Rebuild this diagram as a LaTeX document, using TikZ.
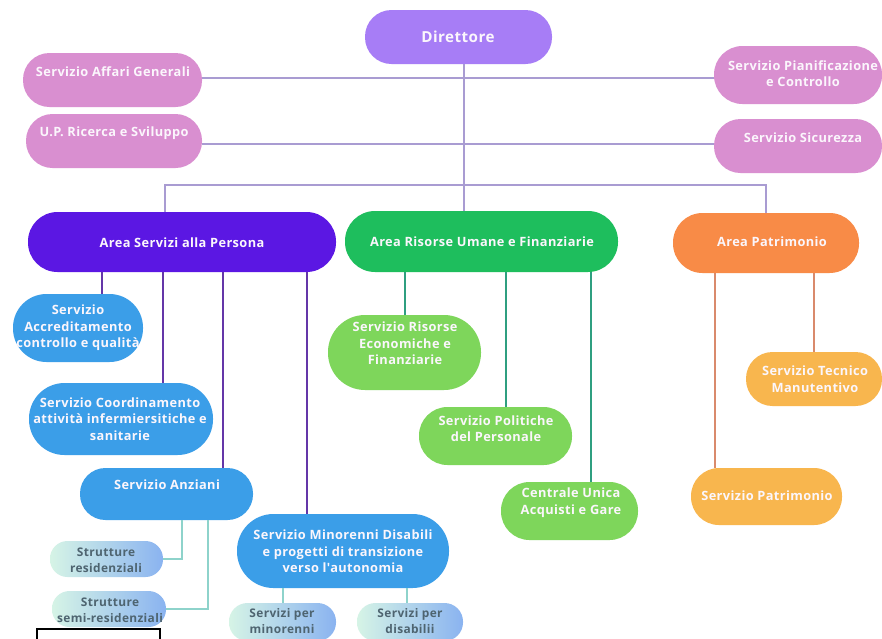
\documentclass[tikz,border=0pt]{standalone}
\usepackage{fontspec}
\setmainfont{Open Sans}
\newfontfamily\lblfont[LetterSpace=3]{Open Sans}
\definecolor{cDir}{HTML}{A77DF6}
\definecolor{cPink}{HTML}{D98FD0}
\definecolor{cASP}{HTML}{5B17E3}
\definecolor{cARF}{HTML}{1EBE5D}
\definecolor{cAP}{HTML}{F88B47}
\definecolor{cBlue}{HTML}{3B9EE8}
\definecolor{cLGreen}{HTML}{7ED65B}
\definecolor{cLOrange}{HTML}{F8B64E}
\definecolor{cMint}{HTML}{D6F4E6}
\definecolor{cSky}{HTML}{8AB3F0}
\definecolor{cTopLine}{HTML}{A99CD2}
\definecolor{cPurpLine}{HTML}{6436A8}
\definecolor{cTealLine}{HTML}{2F9F80}
\definecolor{cOrLine}{HTML}{D98A6C}
\definecolor{cLTeal}{HTML}{8ED3CB}
\definecolor{cTxt}{HTML}{FBF6FC}
\definecolor{cDarkTxt}{HTML}{4E6470}
\newcommand{\mkbox}[6]{%
  \pgfmathsetmacro{\mkW}{#4-#2}%
  \pgfmathsetmacro{\mkH}{#5-#3}%
  \pgfmathsetmacro{\mkX}{(#2+#4)/2}%
  \pgfmathsetmacro{\mkY}{(#3+#5)/2}%
  \pgfmathsetmacro{\mkR}{(#5-#3)/2-0.5}%
  \node[orgbox, #6, minimum width=\mkW pt, minimum height=\mkH pt, rounded corners=\mkR pt] (#1) at (\mkX,\mkY) {};}
\tikzset{
  orgbox/.style={rectangle, draw=none, inner sep=0pt, outer sep=0pt},
  lbl/.style={text=cTxt, font=\lblfont\bfseries\fontsize{12.8}{16.5}\selectfont, align=center, inner sep=0pt},
  biglbl/.style={lbl, font=\lblfont\bfseries\fontsize{15.2}{18}\selectfont},
  dlbl/.style={lbl, text=cDarkTxt, font=\lblfont\bfseries\fontsize{11.9}{16}\selectfont},
  topline/.style={draw=cTopLine, line width=1.4pt},
  purpline/.style={draw=cPurpLine, line width=1.4pt},
  tealline/.style={draw=cTealLine, line width=1.4pt},
  orline/.style={draw=cOrLine, line width=1.4pt},
  lteal/.style={draw=cLTeal, line width=1.4pt},
}
\begin{document}
\begin{tikzpicture}[x=1pt,y=-1pt]
\useasboundingbox (0,0) rectangle (882,638);
\clip (0,0) rectangle (882,638);
\fill[white] (0,0) rectangle (882,638);
% coordinates for connector columns
\coordinate (xD) at (464,0);
\coordinate (busL) at (165,185);
\coordinate (busR) at (766,185);
\coordinate (xa1) at (102,0);
\coordinate (xa2) at (163,0);
\coordinate (xa3) at (223,0);
\coordinate (xa4) at (307,0);
\coordinate (xz1) at (182,0);
\coordinate (xz2) at (208,0);
\coordinate (xm1) at (283,0);
\coordinate (xm2) at (407,0);
\coordinate (xr1) at (405,0);
\coordinate (xr2) at (506,0);
\coordinate (xr3) at (591,0);
\coordinate (xp1) at (715,0);
\coordinate (xp2) at (814,0);
\coordinate (yAG) at (0,78);
\coordinate (yRS) at (0,144);
% boxes
\mkbox{dir}{365}{10}{552}{64}{fill=cDir}
\mkbox{ag}{23}{53}{202}{107}{fill=cPink}
\mkbox{rs}{26}{114}{202}{168}{fill=cPink}
\mkbox{pc}{714}{46}{882}{104}{fill=cPink}
\mkbox{ss}{714}{119}{882}{173}{fill=cPink}
\mkbox{asp}{28}{212}{336}{272}{fill=cASP}
\mkbox{arf}{345}{211}{618}{272}{fill=cARF}
\mkbox{ap}{673}{213}{859}{273}{fill=cAP}
\mkbox{acc}{13}{294}{143}{362}{fill=cBlue}
\mkbox{coo}{29}{383}{213}{455}{fill=cBlue}
\mkbox{anz}{80}{468}{253}{520}{fill=cBlue}
\mkbox{mdi}{237}{514}{449}{588}{fill=cBlue}
\mkbox{sres}{50}{541}{163}{577}{left color=cMint, right color=cSky}
\mkbox{ssem}{52}{591}{166}{627}{left color=cMint, right color=cSky}
\mkbox{smin}{229}{603}{336}{641}{left color=cMint, right color=cSky}
\mkbox{sdis}{357}{603}{463}{641}{left color=cMint, right color=cSky}
\mkbox{rec}{328}{315}{481}{390}{fill=cLGreen}
\mkbox{pol}{419}{407}{572}{465}{fill=cLGreen}
\mkbox{cua}{501}{482}{638}{540}{fill=cLGreen}
\mkbox{tec}{746}{352}{882}{406}{fill=cLOrange}
\mkbox{spa}{691}{468}{842}{525}{fill=cLOrange}
% connectors
\draw[topline] (ag.east |- yAG) -- (pc.west |- yAG);
\draw[topline] (rs.east |- yRS) -- (ss.west |- yRS);
\draw[topline] (xD |- dir.south) -- (xD |- arf.north);
\draw[topline] (busL |- asp.north) -- (busL) -- (busR) -- (busR |- ap.north);
\draw[purpline] (xa1 |- asp.south) -- (xa1 |- acc.north);
\draw[purpline] (xa2 |- asp.south) -- (xa2 |- coo.north);
\draw[purpline] (xa3 |- asp.south) -- (xa3 |- anz.north);
\draw[purpline] (xa4 |- asp.south) -- (xa4 |- mdi.north);
\draw[lteal] (xz1 |- anz.south) |- (sres.east);
\draw[lteal] (xz2 |- anz.south) |- (ssem.east);
\draw[lteal] (xm1 |- mdi.south) -- (xm1 |- smin.north);
\draw[lteal] (xm2 |- mdi.south) -- (xm2 |- sdis.north);
\draw[tealline] (xr1 |- arf.south) -- (xr1 |- rec.north);
\draw[tealline] (xr2 |- arf.south) -- (xr2 |- pol.north);
\draw[tealline] (xr3 |- arf.south) -- (xr3 |- cua.north);
\draw[orline] (xp1 |- ap.south) -- (xp1 |- spa.north);
\draw[orline] (xp2 |- ap.south) -- (xp2 |- tec.north);
% labels
\node[biglbl] (t-dir) at (458,37) {Direttore};
\node[lbl] (t-ag) at (113,72) {Servizio Affari Generali};
\node[lbl] (t-rs) at (114,133) {U.P. Ricerca e Sviluppo};
\node[lbl] (t-pc) at (803,73.5) {Servizio Pianificazione\\e Controllo};
\node[lbl] (t-ss) at (803,138) {Servizio Sicurezza};
\node[lbl] (t-asp) at (182,243) {Area Servizi alla Persona};
\node[lbl] (t-arf) at (482,242) {Area Risorse Umane e Finanziarie};
\node[lbl] (t-ap) at (772,242) {Area Patrimonio};
\node[lbl] (t-acc) at (78,328) {Servizio\\Accreditamento\\controllo e qualità};
\node[lbl] (t-coo) at (120,419) {Servizio Coordinamento\\attività infermiersitiche e\\sanitarie};
\node[lbl] (t-anz) at (167,485) {Servizio Anziani};
\node[lbl] (t-mdi) at (343,551.5) {Servizio Minorenni Disabili\\e progetti di transizione\\verso l'autonomia};
\node[dlbl] (t-sres) at (106,560) {Strutture\\residenziali};
\node[dlbl] (t-ssem) at (110,610) {Strutture\\semi-residenziali};
\node[dlbl] (t-smin) at (282,621.5) {Servizi per\\minorenni};
\node[dlbl] (t-sdis) at (410,621.5) {Servizi per\\disabilii};
\node[lbl] (t-rec) at (405,343.5) {Servizio Risorse\\Economiche e\\Finanziarie};
\node[lbl] (t-pol) at (496,428.5) {Servizio Politiche\\del Personale};
\node[lbl] (t-cua) at (571,502.5) {Centrale Unica\\Acquisti e Gare};
\node[lbl] (t-tec) at (815,379) {Servizio Tecnico\\Manutentivo};
\node[lbl] (t-spa) at (767,496) {Servizio Patrimonio};
% small white box at bottom left
\node[draw=black, fill=white, line width=1.2pt, minimum width=123pt, minimum height=14pt, inner sep=0pt] (wb) at (98.5,636) {};
\end{tikzpicture}
\end{document}
